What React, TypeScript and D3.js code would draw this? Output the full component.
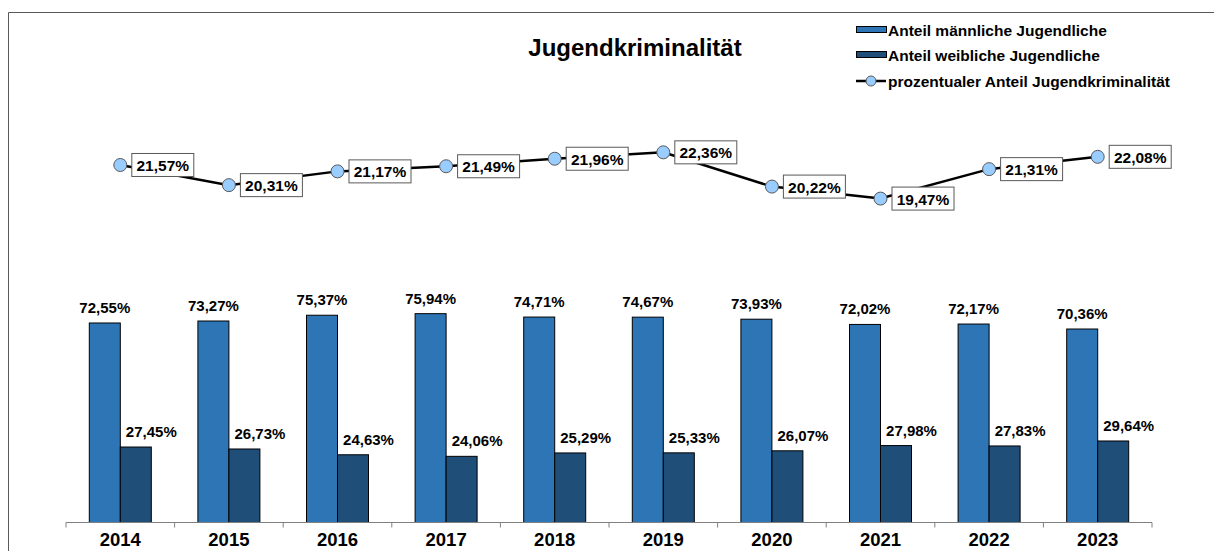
import React from "react";
import * as d3 from "d3";

const years = ["2014", "2015", "2016", "2017", "2018", "2019", "2020", "2021", "2022", "2023"];
const male = [72.55, 73.27, 75.37, 75.94, 74.71, 74.67, 73.93, 72.02, 72.17, 70.36];
const female = [27.45, 26.73, 24.63, 24.06, 25.29, 25.33, 26.07, 27.98, 27.83, 29.64];
const share = [21.57, 20.31, 21.17, 21.49, 21.96, 22.36, 20.22, 19.47, 21.31, 22.08];
const legendLabels = ["Anteil männliche Jugendliche", "Anteil weibliche Jugendliche", "prozentualer Anteil Jugendkriminalität"];
const title = "Jugendkriminalität";

const fmt = (v: number) => v.toFixed(2).replace(".", ",") + "%";

const W = 1214, H = 551;
const MALE = "#2e75b6";
const FEMALE = "#1f4e79";
const FONT = "Liberation Sans, Arial, sans-serif";

export default function App() {
  const x = d3.scaleBand<string>().domain(years).range([66, 1152]).padding(0);
  const inner = d3.scaleBand<string>().domain(["m", "f"]).range([0, 62]);
  const off = (x.bandwidth() - 62) / 2;
  const yBar = d3.scaleLinear().domain([0, 100]).range([522.5, 247.5]);
  const yLine = d3.scaleLinear().domain([18, 24]).range([222.1, 126.1]);
  const cx = (y: string) => (x(y) as number) + x.bandwidth() / 2;
  const line = d3.line<number>().x((_, i) => cx(years[i])).y((d) => yLine(d));
  const base = yBar(0);
  const ticks = [...years.map((y) => x(y) as number), 1152];

  return (
    <svg width={W} height={H} style={{ position: "absolute", left: 0, top: 0 }} fontFamily={FONT}>
      <rect x={0} y={0} width={W} height={H} fill="#fff" />
      <path d={`M8.5,${H} V12.5 H${W}`} fill="none" stroke="#595959" strokeWidth={1} />
      <text x={635} y={56} textAnchor="middle" fontSize={24} fontWeight="bold">{title}</text>

      {/* legend */}
      <rect x={856.5} y={26.5} width={30} height={6} fill={MALE} stroke="#000" strokeWidth={1} />
      <text x={888} y={35.5} fontSize={15.5} fontWeight="bold">{legendLabels[0]}</text>
      <rect x={856.5} y={51.5} width={30} height={6} fill={FEMALE} stroke="#000" strokeWidth={1} />
      <text x={888} y={60.5} fontSize={15.5} fontWeight="bold">{legendLabels[1]}</text>
      <line x1={856} x2={886} y1={81} y2={81} stroke="#000" strokeWidth={2.5} />
      <circle cx={871} cy={81} r={5} fill="#99ccff" stroke="#595959" strokeWidth={1} />
      <text x={888} y={86.5} fontSize={15.5} fontWeight="bold">{legendLabels[2]}</text>

      {/* bars */}
      {years.map((y, i) => {
        const x0 = (x(y) as number) + off;
        const mx = x0 + (inner("m") as number);
        const fx = x0 + (inner("f") as number);
        const bw = inner.bandwidth();
        return (
          <g key={y}>
            <rect x={mx} y={yBar(male[i])} width={bw} height={base - yBar(male[i])} fill={MALE} stroke="#000" strokeWidth={1} />
            <rect x={fx} y={yBar(female[i])} width={bw} height={base - yBar(female[i])} fill={FEMALE} stroke="#000" strokeWidth={1} />
            <text x={mx + bw / 2} y={yBar(male[i]) - 10} textAnchor="middle" fontSize={15} fontWeight="bold">{fmt(male[i])}</text>
            <text x={fx + bw} y={yBar(female[i]) - 10} textAnchor="middle" fontSize={15} fontWeight="bold">{fmt(female[i])}</text>
            <text x={cx(y)} y={546} textAnchor="middle" fontSize={18.5} fontWeight="bold">{y}</text>
          </g>
        );
      })}

      {/* axis */}
      <line x1={66} x2={1152} y1={base} y2={base} stroke="#808080" strokeWidth={1} />
      {ticks.map((t, i) => (
        <line key={i} x1={t} x2={t} y1={base} y2={base + 5} stroke="#808080" strokeWidth={1} />
      ))}

      {/* line */}
      <path d={line(share) || ""} fill="none" stroke="#000" strokeWidth={2.5} />
      {share.map((v, i) => {
        const px = cx(years[i]);
        const py = yLine(v);
        return (
          <g key={i}>
            <circle cx={px} cy={py} r={6.5} fill="#99ccff" stroke="#595959" strokeWidth={1} />
            <rect x={px + 11.5} y={py - 11.5} width={62} height={23} fill="#fff" stroke="#595959" strokeWidth={1} />
            <text x={px + 42.5} y={py + 6} textAnchor="middle" fontSize={15.5} fontWeight="bold">{fmt(v)}</text>
          </g>
        );
      })}
    </svg>
  );
}
